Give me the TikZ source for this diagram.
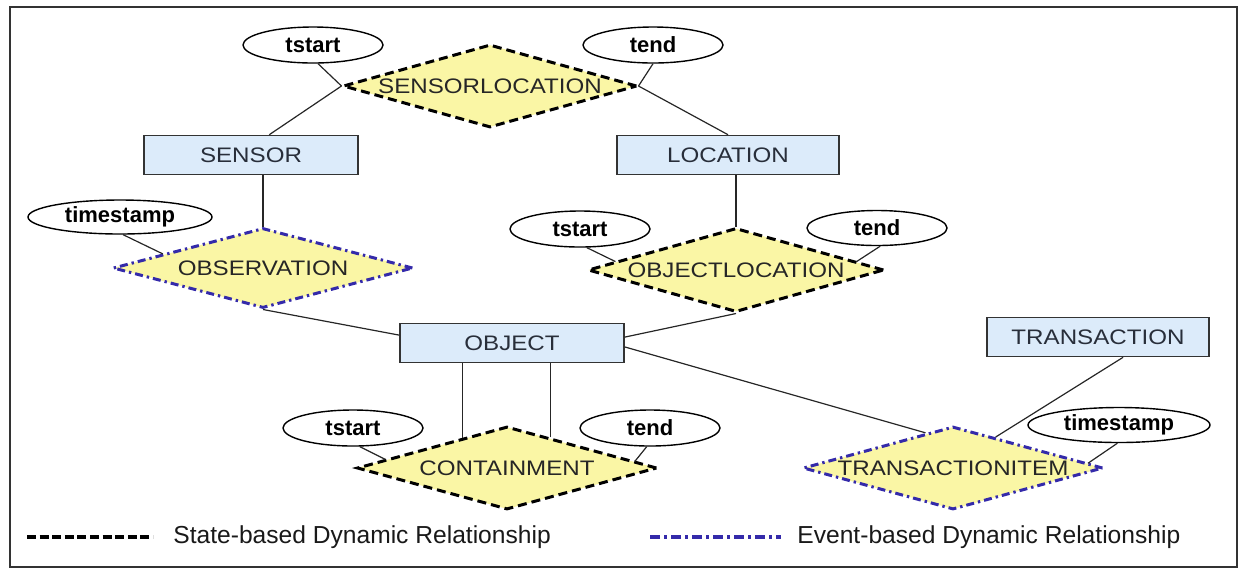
\documentclass[tikz,border=0pt]{standalone}
\usepackage{fontspec}
\setmainfont{Liberation Sans}
\newfontfamily\erfont[FakeStretch=1.15]{Liberation Sans}
\usetikzlibrary{shapes.geometric}

\definecolor{entityfill}{RGB}{220,235,250}
\definecolor{relfill}{RGB}{250,246,165}
\definecolor{eventblue}{RGB}{52,42,170}
\definecolor{labelgray}{RGB}{40,46,58}

\newcommand{\relname}[1]{\makebox[0pt]{#1}}

\begin{document}
\begin{tikzpicture}[
    x=0.5pt, y=-0.5pt,
    entity/.style={
        draw=black!80,
        line width=0.8pt,
        fill=entityfill,
        minimum width=111pt,
        minimum height=19.5pt,
        inner sep=0pt,
        font=\erfont\fontsize{10.5}{12}\selectfont,
        text=labelgray
    },
    attr/.style={
        draw,
        ellipse,
        line width=0.7pt,
        fill=white,
        minimum width=70pt,
        minimum height=18pt,
        inner sep=0pt,
        font=\bfseries\fontsize{11}{13}\selectfont
    },
    staterel/.style={
        diamond,
        draw=black,
        fill=relfill,
        line width=1.5pt,
        dash pattern=on 4.5pt off 2.5pt,
        minimum width=150pt,
        minimum height=41.5pt,
        inner sep=0pt,
        font=\erfont\fontsize{10.5}{12}\selectfont,
        text=black!85
    },
    eventrel/.style={
        staterel,
        draw=eventblue,
        dash pattern=on 4pt off 2pt on 1.2pt off 2pt
    },
    link/.style={draw=black!85, line width=0.6pt},
    legtext/.style={
        anchor=west,
        inner sep=0pt,
        font=\fontsize{12.3}{14}\selectfont,
        text=black!90
    }
]

\useasboundingbox (0,0) rectangle (1242,570);
\draw[line width=1pt, black!80] (10,7) rectangle (1237,567);

% ------------------------------------------------
% Entities
% ------------------------------------------------

\node[entity, minimum width=107pt] (sensor) at (251,155) {SENSOR};
\node[entity] (location) at (728,155) {LOCATION};
\node[entity, minimum width=112pt] (object) at (512,343) {OBJECT};
\node[entity] (transaction) at (1098,337) {TRANSACTION};

% ------------------------------------------------
% Relationships
% ------------------------------------------------

\node[staterel, minimum width=147pt] (senloc) at (490,86)
    {\relname{SENSORLOCATION}};
\node[eventrel, minimum height=40pt] (observation) at (263,268)
    {\relname{OBSERVATION}};
\node[staterel, minimum width=148pt, minimum height=42pt] (objloc) at (736,270)
    {\relname{OBJECTLOCATION}};
\node[staterel] (containment) at (507,468)
    {\relname{CONTAINMENT}};
\node[eventrel] (tritem) at (953,468)
    {\relname{TRANSACTIONITEM}};

% ------------------------------------------------
% Attributes
% ------------------------------------------------

\node[attr] (tstartA) at (313,45) {tstart};
\node[attr] (tendA) at (653,45) {tend};
\node[attr, minimum width=92pt, minimum height=17pt] (stampobs) at (120,217) {timestamp};
\node[attr] (tstartB) at (580,229) {tstart};
\node[attr, minimum height=17.5pt] (tendB) at (877,228) {tend};
\node[attr] (tstartC) at (353,428) {tstart};
\node[attr] (tendC) at (650,428) {tend};
\node[attr, minimum width=91pt, minimum height=17.5pt] (stamptr) at (1119,425) {timestamp};

% ------------------------------------------------
% Connections
% ------------------------------------------------

\draw[link] (sensor.48) -- (senloc.west);
\draw[link] (location.north) -- (senloc.east);
\draw[link] (tstartA.-75) -- (senloc.west);
\draw[link] (tendA.south) -- (senloc.east);

\draw[link] (observation.north) -- (observation.north |- sensor.south);
\draw[link] (stampobs.-80) -- (observation.172);
\draw[link] (observation.south) -- (object.176);

\draw[link] (objloc.north) -- (objloc.north |- location.south);
\draw[link] (tstartB.-70) -- (objloc.176);
\draw[link] (tendB.-80) -- (objloc.4);
\draw[link] (object.3) -- (objloc.south);

% Containment: object linked twice
\draw[link] (containment.146) -- (containment.146 |- object.south);
\draw[link] (containment.35) -- (containment.35 |- object.south);
\draw[link] (tstartC.-70) -- (containment.176);
\draw[link] (tendC.-100) -- (containment.3);

\draw[link] (object.358) -- (tritem.128);
\draw[link] (transaction.-39) -- (tritem.36);
\draw[link] (stamptr.-95) -- (tritem.2);

% ------------------------------------------------
% Legend
% ------------------------------------------------

\coordinate (statefrom) at (27,537);
\coordinate (stateto) at (153,537);
\node[legtext] (statelabel) at (173,537) {State-based Dynamic Relationship};
\draw[line width=2pt, dash pattern=on 4.5pt off 1.8pt] (statefrom) -- (stateto);

\coordinate (eventfrom) at (650,537);
\coordinate (eventto) at (781,537);
\node[legtext] (eventlabel) at (797,537) {Event-based Dynamic Relationship};
\draw[line width=2pt, eventblue, dash pattern=on 5pt off 2pt on 1.5pt off 2pt]
    (eventfrom) -- (eventto);

\end{tikzpicture}
\end{document}
